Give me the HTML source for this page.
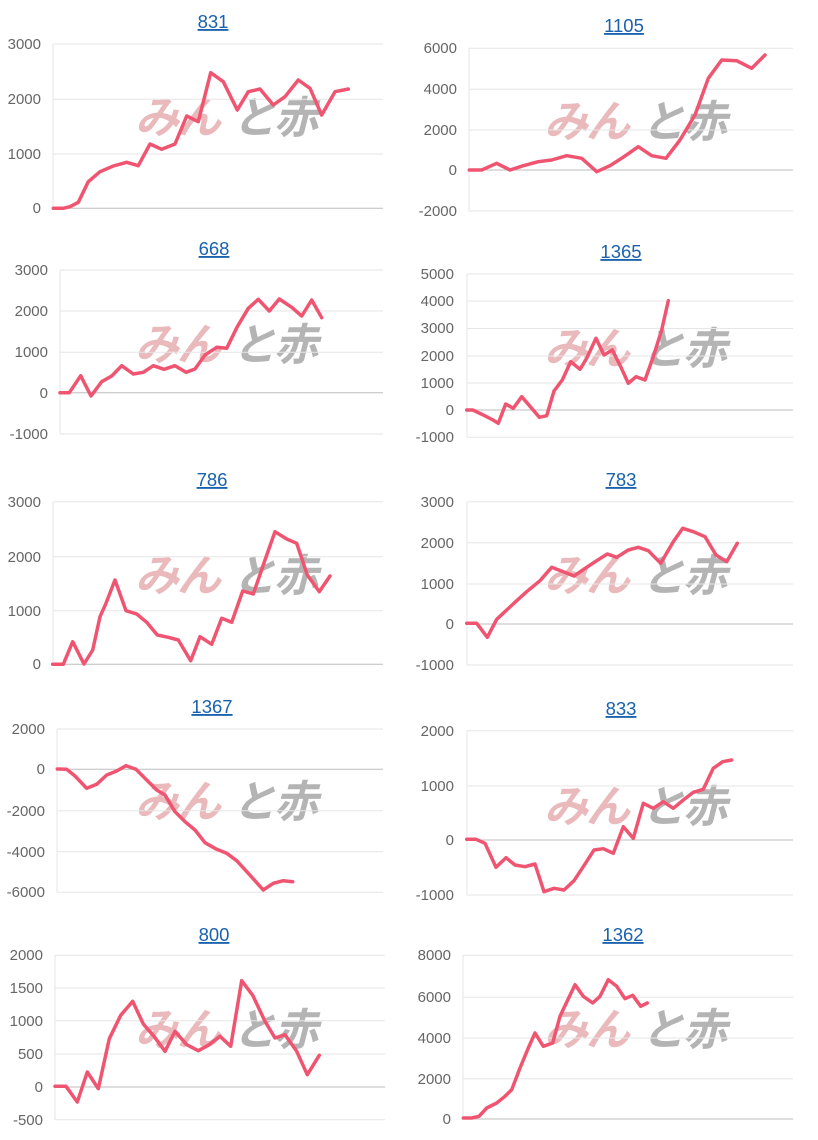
<!DOCTYPE html>
<html><head><meta charset="utf-8"><style>
html,body{margin:0;padding:0;background:#fff;}
svg{display:block;}
.t{font-family:"Liberation Sans",sans-serif;font-size:18.5px;fill:#1a62ad;text-anchor:middle;text-decoration:underline;}
.l{font-family:"Liberation Sans",sans-serif;font-size:15px;fill:#666;text-anchor:end;}
.g{stroke:#e6e6e6;stroke-width:1;}
.z{stroke:#bdbdbd;stroke-width:1;}
.s{fill:none;stroke:#ef5571;stroke-width:3.5;stroke-linejoin:round;stroke-linecap:round;}
.w1{font-family:"Liberation Sans","Noto Sans CJK JP",sans-serif;font-size:44px;font-weight:bold;font-style:italic;fill:#e9b9bb;letter-spacing:-2px;}
.w2{font-family:"Liberation Sans","Noto Sans CJK JP",sans-serif;font-size:44px;font-weight:bold;font-style:italic;fill:#b4b4b4;letter-spacing:-2px;}
</style></head><body>
<svg width="818" height="1140" viewBox="0 0 818 1140" xmlns="http://www.w3.org/2000/svg">
<g>
<text class="w1" x="135" y="133">みん</text><text class="w2" x="232" y="133">と赤</text>
<text class="w1" x="544" y="137">みん</text><text class="w2" x="641" y="137">と赤</text>
<text class="w1" x="135" y="360">みん</text><text class="w2" x="232" y="360">と赤</text>
<text class="w1" x="544" y="364">みん</text><text class="w2" x="641" y="364">と赤</text>
<text class="w1" x="135" y="591">みん</text><text class="w2" x="232" y="591">と赤</text>
<text class="w1" x="544" y="591">みん</text><text class="w2" x="641" y="591">と赤</text>
<text class="w1" x="135" y="817">みん</text><text class="w2" x="232" y="817">と赤</text>
<text class="w1" x="544" y="822">みん</text><text class="w2" x="641" y="822">と赤</text>
<text class="w1" x="135" y="1045">みん</text><text class="w2" x="232" y="1045">と赤</text>
<text class="w1" x="544" y="1045">みん</text><text class="w2" x="641" y="1045">と赤</text>
</g>

<text class="t" x="213" y="28">831</text>
<line class="g" x1="53" y1="44" x2="383" y2="44"/><line class="g" x1="53" y1="99.3" x2="383" y2="99.3"/><line class="g" x1="53" y1="154" x2="383" y2="154"/>
<line class="z" x1="53" y1="208.3" x2="383" y2="208.3"/><line class="g" x1="53" y1="44" x2="53" y2="208"/>
<text class="l" x="41" y="49">3000</text><text class="l" x="41" y="104">2000</text><text class="l" x="41" y="159">1000</text><text class="l" x="41" y="213">0</text>
<polyline class="s" points="53.3,208.3 63.3,208.3 70,206.7 78.3,202.3 88.3,181.7 100,171.7 113.3,166 126.7,162.3 138.3,165.7 150,144 161.7,149.3 175,144 186.7,116 198.3,121.7 210.7,72.7 223.3,81.7 237.3,110 248.3,91.7 260,89 273.3,105 285,96.7 298.3,80 310,88.3 321.7,115 335,91.7 348.3,89"/>

<text class="t" x="624" y="32">1105</text>
<line class="g" x1="469" y1="48.3" x2="793" y2="48.3"/><line class="g" x1="469" y1="89.3" x2="793" y2="89.3"/><line class="g" x1="469" y1="130" x2="793" y2="130"/>
<line class="z" x1="469" y1="170" x2="793" y2="170"/><line class="g" x1="469" y1="211" x2="793" y2="211"/><line class="g" x1="469" y1="48" x2="469" y2="211"/>
<text class="l" x="457" y="53">6000</text><text class="l" x="457" y="94">4000</text><text class="l" x="457" y="135">2000</text><text class="l" x="457" y="175">0</text><text class="l" x="457" y="216">-2000</text>
<polyline class="s" points="469.3,170 481.7,170 496.7,163.3 510,170 523.3,165.7 538.3,161.7 551.7,160 566.7,155.7 581.7,158.3 596.7,171.7 610,165.7 624,156.7 638.3,146.7 651.7,155.7 666,158.3 680,140 695,115 708.3,78.3 721.7,60 736.7,60.7 751.7,68.3 765,55"/>

<text class="t" x="214" y="255">668</text>
<line class="g" x1="60" y1="270" x2="383" y2="270"/><line class="g" x1="60" y1="311" x2="383" y2="311"/><line class="g" x1="60" y1="352.3" x2="383" y2="352.3"/>
<line class="z" x1="60" y1="392.7" x2="383" y2="392.7"/><line class="g" x1="60" y1="434" x2="383" y2="434"/><line class="g" x1="60" y1="270" x2="60" y2="434"/>
<text class="l" x="48" y="275">3000</text><text class="l" x="48" y="316">2000</text><text class="l" x="48" y="357">1000</text><text class="l" x="48" y="398">0</text><text class="l" x="48" y="439">-1000</text>
<polyline class="s" points="60,392.7 69.3,392.7 80.7,375.7 91,396 101.7,381.7 111.7,376 121.7,365.7 133.3,374 143.3,372.3 153.3,365.7 164,369.3 175,365.7 186,372.3 195,369 205,355 216.7,347.3 226.7,348.3 237.3,326.7 248.3,308.3 258.3,299.3 269.3,311 279.3,299 291.7,307.3 301.7,316 311.7,300 321.7,317.7"/>

<text class="t" x="621" y="258">1365</text>
<line class="g" x1="467" y1="274" x2="793" y2="274"/><line class="g" x1="467" y1="301" x2="793" y2="301"/><line class="g" x1="467" y1="328.5" x2="793" y2="328.5"/><line class="g" x1="467" y1="356" x2="793" y2="356"/><line class="g" x1="467" y1="383" x2="793" y2="383"/>
<line class="z" x1="467" y1="410" x2="793" y2="410"/><line class="g" x1="467" y1="437.3" x2="793" y2="437.3"/><line class="g" x1="467" y1="274" x2="467" y2="437"/>
<text class="l" x="454" y="279">5000</text><text class="l" x="454" y="306">4000</text><text class="l" x="454" y="333">3000</text><text class="l" x="454" y="361">2000</text><text class="l" x="454" y="388">1000</text><text class="l" x="454" y="415">0</text><text class="l" x="454" y="442">-1000</text>
<polyline class="s" points="466.7,410 472.7,410 483.3,415 491.7,419.3 498.3,423.3 505.7,404 513.3,408.3 521.7,396.7 531.7,408.3 539.3,417.3 546.7,415.7 554,391 562.3,380 570.7,361.7 580,369.3 586.7,358.3 596,338.3 604,355 612.3,350 620.7,366.7 628.3,383.3 636,376.7 645,380 653.3,356.7 661.7,330 668.3,300.7"/>

<text class="t" x="212" y="486">786</text>
<line class="g" x1="53" y1="501.7" x2="383" y2="501.7"/><line class="g" x1="53" y1="556.7" x2="383" y2="556.7"/><line class="g" x1="53" y1="610.7" x2="383" y2="610.7"/>
<line class="z" x1="53" y1="664.3" x2="383" y2="664.3"/><line class="g" x1="53" y1="501.7" x2="53" y2="664"/>
<text class="l" x="41" y="507">3000</text><text class="l" x="41" y="562">2000</text><text class="l" x="41" y="616">1000</text><text class="l" x="41" y="669">0</text>
<polyline class="s" points="52.7,664.3 63.3,664.3 72.7,641.7 84,664 92.7,650 100,616.7 106,603.3 115,580 126,610.7 136.7,614 146.7,622.3 157.3,635 168.3,637.3 178.3,640 190.7,660.7 200,636.7 211.7,644.3 221.7,618.3 231.7,622.3 242.7,591 253.3,594 265,560 275,531.7 286.7,539 296.7,543.3 307.3,575 319.3,591.7 330,576"/>

<text class="t" x="621" y="486">783</text>
<line class="g" x1="467" y1="501.7" x2="793" y2="501.7"/><line class="g" x1="467" y1="542.7" x2="793" y2="542.7"/><line class="g" x1="467" y1="584" x2="793" y2="584"/>
<line class="z" x1="467" y1="624" x2="793" y2="624"/><line class="g" x1="467" y1="665" x2="793" y2="665"/><line class="g" x1="467" y1="501.7" x2="467" y2="665"/>
<text class="l" x="454" y="507">3000</text><text class="l" x="454" y="548">2000</text><text class="l" x="454" y="589">1000</text><text class="l" x="454" y="629">0</text><text class="l" x="454" y="670">-1000</text>
<polyline class="s" points="466.7,623.3 476.7,623.3 487.3,637.3 496.7,619.3 506.7,610 516.7,600.7 526.7,591.7 540,580.7 551.7,567.3 563.3,571.7 574,576 586.7,567.3 596.7,560.7 607.3,554 616.7,557.3 628.3,550 638.3,547.3 648.3,550.7 660.7,563.3 673.3,541.7 682.7,528.3 693.3,531.7 705,536.7 716,555 726.7,561.7 737.3,543.3"/>

<text class="t" x="212" y="713">1367</text>
<line class="g" x1="57" y1="729" x2="383" y2="729"/><line class="z" x1="57" y1="769.3" x2="383" y2="769.3"/><line class="g" x1="57" y1="810.7" x2="383" y2="810.7"/>
<line class="g" x1="57" y1="851.7" x2="383" y2="851.7"/><line class="g" x1="57" y1="892.3" x2="383" y2="892.3"/><line class="g" x1="57" y1="729" x2="57" y2="892"/>
<text class="l" x="45" y="734">2000</text><text class="l" x="45" y="774">0</text><text class="l" x="45" y="816">-2000</text><text class="l" x="45" y="857">-4000</text><text class="l" x="45" y="897">-6000</text>
<polyline class="s" points="57.3,769 66.7,769.3 75,776 86.7,788.3 96.7,784.3 106.7,775 116.7,771 126,765.7 136,769.3 146.7,780 156.7,790 165,795 175,811.7 185,821.7 195,830 205,842.7 216.7,849.3 226.7,853.3 236.7,860.7 248.3,873.3 256.7,882.7 263.3,890 273.3,883.3 283.3,880.7 292.7,881.7"/>

<text class="t" x="621" y="715">833</text>
<line class="g" x1="467" y1="730.7" x2="793" y2="730.7"/><line class="g" x1="467" y1="786" x2="793" y2="786"/><line class="z" x1="467" y1="840" x2="793" y2="840"/>
<line class="g" x1="467" y1="895" x2="793" y2="895"/><line class="g" x1="467" y1="730.7" x2="467" y2="895"/>
<text class="l" x="454" y="736">2000</text><text class="l" x="454" y="791">1000</text><text class="l" x="454" y="845">0</text><text class="l" x="454" y="900">-1000</text>
<polyline class="s" points="466.7,839.3 476,839.3 485,843.3 496,867.3 506,857.7 515,865 525,866.7 535,864 544,891.7 554,888.3 564,890 574,880.7 583.3,866.7 594,850 603.3,848.7 613.3,853.3 623.3,826.7 633.3,838.3 643.3,803.3 653.3,808.3 663.3,801.7 673.3,808.3 683.3,800 693.3,792.3 703.3,789.3 713.3,768.3 722.7,761.7 731.7,760"/>

<text class="t" x="214" y="941">800</text>
<line class="g" x1="55" y1="955.3" x2="385" y2="955.3"/><line class="g" x1="55" y1="988" x2="385" y2="988"/><line class="g" x1="55" y1="1020.7" x2="385" y2="1020.7"/><line class="g" x1="55" y1="1054" x2="385" y2="1054"/>
<line class="z" x1="55" y1="1087" x2="385" y2="1087"/><line class="g" x1="55" y1="1119.7" x2="385" y2="1119.7"/><line class="g" x1="55" y1="955" x2="55" y2="1120"/>
<text class="l" x="43" y="960">2000</text><text class="l" x="43" y="993">1500</text><text class="l" x="43" y="1026">1000</text><text class="l" x="43" y="1059">500</text><text class="l" x="43" y="1092">0</text><text class="l" x="43" y="1125">-500</text>
<polyline class="s" points="55,1086.3 66,1086.3 77.3,1102 87.3,1072 98.3,1088.7 109.3,1038.7 120.7,1015.3 132.7,1001.3 143.3,1024 154,1036.3 165,1051.3 175,1031.3 186.7,1044.7 198.3,1050.7 208.3,1045.3 220,1036.3 230.7,1046.3 241.7,980.7 252.7,995.3 265,1021.3 275,1038 285,1034.7 296.7,1051.3 307.3,1074.7 319.3,1055.3"/>

<text class="t" x="623" y="941">1362</text>
<line class="g" x1="463" y1="955.3" x2="793" y2="955.3"/><line class="g" x1="463" y1="997.3" x2="793" y2="997.3"/><line class="g" x1="463" y1="1038" x2="793" y2="1038"/><line class="g" x1="463" y1="1078.7" x2="793" y2="1078.7"/>
<line class="z" x1="463" y1="1119" x2="793" y2="1119"/><line class="g" x1="463" y1="955" x2="463" y2="1119"/>
<text class="l" x="451" y="960">8000</text><text class="l" x="451" y="1002">6000</text><text class="l" x="451" y="1043">4000</text><text class="l" x="451" y="1084">2000</text><text class="l" x="451" y="1124">0</text>
<polyline class="s" points="463.3,1118 471.7,1118 479,1116.3 486.7,1108 496.7,1103 505,1096.3 511.7,1089.7 520,1068 528.3,1048 535,1033 543.3,1046.3 552.7,1043 560,1016.3 575,984.7 583.3,996.3 592.7,1003 600,996.3 608.3,979.7 616.7,986.3 625,998.7 632.7,995.3 640.7,1006.3 647.3,1003"/>
</svg>
</body></html>
